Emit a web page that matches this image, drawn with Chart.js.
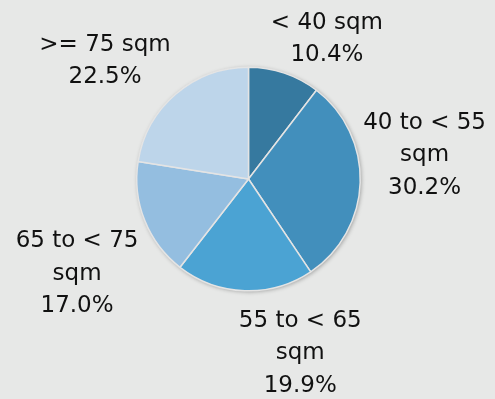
<!DOCTYPE html>
<html>
<head>
<meta charset="utf-8">
<script src="https://cdn.jsdelivr.net/npm/chart.js@4.4.1/dist/chart.umd.min.js"></script>
<style>
  html, body { margin: 0; padding: 0; background: #e7e8e7; }
  #wrap { width: 495px; height: 399px; }
</style>
</head>
<body>
<div id="wrap"><canvas id="chart-size" width="495" height="399"></canvas></div>
<script>
// Dwelling size shares (pie)
const CATEGORIES  = ['< 40 sqm', '40 to < 55 sqm', '55 to < 65 sqm', '65 to < 75 sqm', '>= 75 sqm'];
const LABEL_LINES = [['< 40 sqm'], ['40 to < 55', 'sqm'], ['55 to < 65', 'sqm'], ['65 to < 75', 'sqm'], ['>= 75 sqm']];
const SHARES      = [10.4, 30.2, 19.9, 17.0, 22.5];

const COLORS = ['#36799f', '#428fbc', '#4ba3d3', '#94bee0', '#bdd5ea'];

const LINE_H = 32.5;
// small hand nudges so labels sit like the "best fit" layout
const LABEL_NUDGE = [[22, 4], [-5, -29], [58, 6], [-3, 33], [-23, -2]];

// soft shadow under the whole pie
const pieShadow = {
  id: 'pieShadow',
  beforeDatasetsDraw(chart) {
    const arc = chart.getDatasetMeta(0).data[0];
    if (!arc) return;
    const ctx = chart.ctx;
    ctx.save();
    ctx.shadowColor = 'rgba(0,0,0,0.35)';
    ctx.shadowBlur = 4;
    ctx.shadowOffsetX = 1;
    ctx.shadowOffsetY = 1;
    ctx.fillStyle = '#d8d8d8';
    ctx.beginPath();
    ctx.arc(arc.x, arc.y, arc.outerRadius, 0, Math.PI * 2);
    ctx.fill();
    ctx.restore();
  }
};

// category + percent labels outside each slice
const outsideLabels = {
  id: 'outsideLabels',
  afterDatasetsDraw(chart) {
    const ctx = chart.ctx;
    const meta = chart.getDatasetMeta(0);
    const values = chart.data.datasets[0].data;
    ctx.save();
    ctx.font = '23px "DejaVu Sans"';
    ctx.fillStyle = '#111';
    ctx.textAlign = 'center';
    ctx.textBaseline = 'middle';
    meta.data.forEach((arc, i) => {
      const lines = LABEL_LINES[i].concat(values[i].toFixed(1) + '%');
      const w = Math.max(...lines.map(l => ctx.measureText(l).width));
      const h = lines.length * LINE_H;
      const mid = (arc.startAngle + arc.endAngle) / 2;
      const dx = Math.cos(mid), dy = Math.sin(mid);
      const px = arc.x + dx * (arc.outerRadius + 8);
      const py = arc.y + dy * (arc.outerRadius + 8);
      const cx = px + dx * w / 2 + LABEL_NUDGE[i][0];
      const cy = py + dy * h / 2 + LABEL_NUDGE[i][1];
      lines.forEach((l, k) => ctx.fillText(l, cx, cy - h / 2 + LINE_H * (k + 0.5)));
    });
    ctx.restore();
  }
};

new Chart(document.getElementById('chart-size'), {
  type: 'pie',
  data: {
    labels: CATEGORIES,
    datasets: [{
      data: SHARES,
      backgroundColor: COLORS,
      borderColor: '#e4e4e4',
      borderWidth: 1.5,
    }]
  },
  options: {
    responsive: false,
    animation: false,
    layout: { padding: { left: 136, right: 134, top: 66, bottom: 107 } },
    plugins: {
      legend: { display: false },
      tooltip: { enabled: false }
    }
  },
  plugins: [pieShadow, outsideLabels]
});
</script>
</body>
</html>
